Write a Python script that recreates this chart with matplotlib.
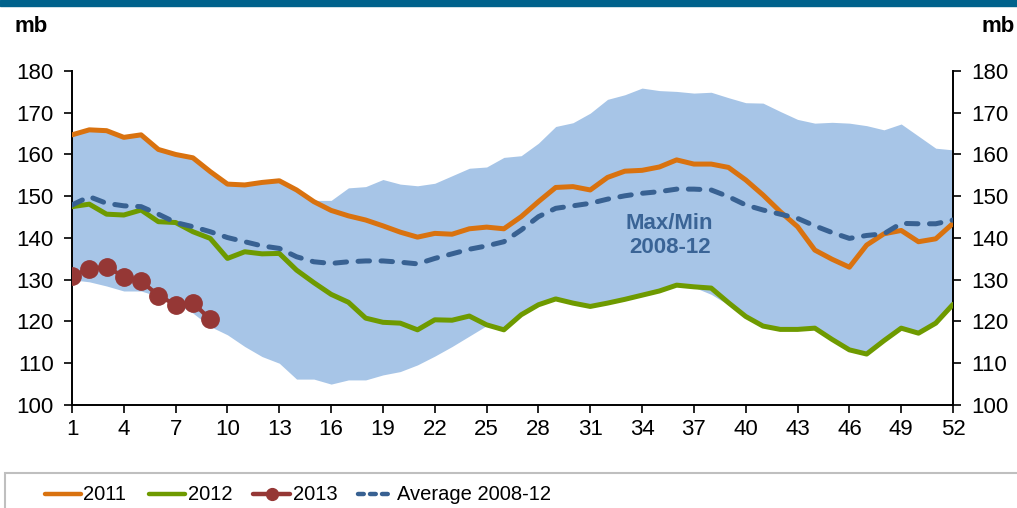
import matplotlib
matplotlib.use("Agg")
import matplotlib.pyplot as plt
from matplotlib.patches import Rectangle
from matplotlib.lines import Line2D

plt.rcParams["font.family"] = ["Liberation Sans", "DejaVu Sans"]

# weekly stocks, mb
weeks = list(range(1, 53))
week_ticks = list(range(1, 53, 3))

band_max = [165.0, 166.0, 165.7, 164.3, 164.7, 161.5, 160.2, 159.5, 156.0, 153.0,
            152.9, 153.5, 153.9, 151.7, 149.0, 149.0, 152.0, 152.3, 154.0, 152.9,
            152.5, 153.1, 154.9, 156.7, 157.0, 159.3, 159.7, 162.7, 166.7, 167.6,
            169.9, 173.2, 174.3, 175.9, 175.3, 175.1, 174.7, 174.9, 173.6, 172.4,
            172.3, 170.3, 168.4, 167.5, 167.7, 167.5, 166.9, 165.9, 167.3, 164.4,
            161.5, 161.1]
band_min = [130.0, 129.5, 128.5, 127.3, 127.3, 126.0, 124.4, 122.0, 118.8, 116.8,
            114.0, 111.6, 110.0, 106.2, 106.2, 105.0, 106.0, 106.0, 107.2, 108.0,
            109.6, 111.7, 114.0, 116.5, 119.0, 118.0, 121.6, 124.0, 125.4, 124.4,
            123.6, 124.4, 125.3, 126.3, 127.3, 128.7, 128.2, 126.5, 124.0, 121.2,
            118.9, 118.1, 118.1, 118.4, 115.7, 113.2, 112.2, 115.4, 118.4, 117.2,
            119.6, 124.1]

y2011 = [164.7, 165.9, 165.7, 164.1, 164.7, 161.2, 160.0, 159.2, 155.9, 152.9,
         152.7, 153.3, 153.7, 151.5, 148.7, 146.6, 145.3, 144.3, 142.9, 141.4,
         140.2, 141.1, 140.9, 142.2, 142.6, 142.2, 145.1, 148.7, 152.1, 152.3,
         151.5, 154.5, 156.0, 156.2, 157.0, 158.7, 157.7, 157.7, 156.9, 153.9,
         150.3, 146.3, 142.7, 137.1, 134.9, 133.0, 138.3, 141.0, 141.8, 139.1,
         139.8, 143.5]
y2012 = [147.5, 148.1, 145.7, 145.5, 146.7, 143.9, 143.7, 141.5, 139.9, 135.1,
         136.7, 136.2, 136.3, 132.3, 129.3, 126.5, 124.6, 120.8, 119.8, 119.6,
         118.0, 120.4, 120.3, 121.3, 119.2, 118.0, 121.6, 124.0, 125.4, 124.4,
         123.6, 124.4, 125.3, 126.3, 127.3, 128.7, 128.3, 128.0, 124.5, 121.2,
         118.9, 118.1, 118.1, 118.4, 115.7, 113.2, 112.2, 115.4, 118.4, 117.2,
         119.6, 124.1]
weeks2013 = list(range(1, 10))
y2013 = [130.9, 132.6, 133.1, 130.7, 129.7, 126.2, 124.0, 124.5, 120.5]
avg = [147.9, 149.9, 148.3, 147.7, 147.5, 145.7, 143.7, 142.7, 141.5, 140.1,
       139.1, 138.1, 137.5, 135.5, 134.3, 133.9, 134.3, 134.5, 134.5, 134.2,
       133.8, 135.1, 136.2, 137.3, 138.1, 139.1, 141.9, 145.1, 147.1, 147.7,
       148.3, 149.3, 150.1, 150.7, 151.1, 151.7, 151.7, 151.5, 149.9, 147.9,
       146.7, 145.7, 144.7, 142.9, 141.3, 139.9, 140.6, 141.0, 143.5, 143.4,
       143.4, 144.3]

series_names = ["2011", "2012", "2013", "Average 2008-12"]

c2011 = "#D9720F"
c2012 = "#6E9A00"
c2013 = "#953735"
cavg = "#386192"
cband = "#A7C5E7"

fig = plt.figure(figsize=(10.17, 5.08), dpi=100)
ax = fig.add_axes([0.0708, 0.2028, 0.8663, 0.6575])

# min/max range, then the yearly lines on top
ax.fill_between(weeks, band_min, band_max, color=cband, lw=0, zorder=1)
ax.plot(weeks, y2011, color=c2011, lw=3.6, solid_joinstyle="round",
        solid_capstyle="round", zorder=3)
ax.plot(weeks, y2012, color=c2012, lw=3.6, solid_joinstyle="round",
        solid_capstyle="round", zorder=3)
ax.plot(weeks, avg, color=cavg, lw=3.6, dashes=(2.3, 2.3),
        dash_capstyle="round", zorder=4)
ax.plot(weeks2013, y2013, color=c2013, lw=3, marker="o", ms=12.5, zorder=5)

ax.text(35.6, 140.5, "Max/Min\n2008-12", color="#3A6496", fontsize=16,
        fontweight="bold", ha="center", va="center", linespacing=1.2, zorder=6)

ax.set_xlim(1, 52)
ax.set_ylim(100, 180)
ax.set_xticks(week_ticks)
ax.set_yticks(range(100, 181, 10))
ax.tick_params(axis="both", direction="out", length=6, width=1.2,
               labelsize=16)
ax.tick_params(axis="x", pad=4)
ax.tick_params(axis="y", left=True, right=True, labelleft=True,
               labelright=True, pad=7)
ax.spines["top"].set_visible(False)
for s in ("left", "right", "bottom"):
    ax.spines[s].set_linewidth(1.4)

# header strip and unit labels
fig.patches.append(Rectangle((0, 0.988), 1, 0.012, transform=fig.transFigure,
                             color="#00628C", zorder=0))
fig.text(0.014, 0.948, "mb", fontsize=16, fontweight="bold", va="center")
fig.text(0.998, 0.948, "mb", fontsize=16, fontweight="bold", va="center",
         ha="right")

# legend box, running off the lower right edge
W, H = 1017.0, 508.0
fig.patches.append(Rectangle((5 / W, -0.05), 1.1, 0.05 + 1 - 473 / H,
                             transform=fig.transFigure, fill=False,
                             edgecolor="#BFBFBF", lw=1.5))
leg_y = 1 - 494 / H
handle_x = [(45, 81), (149, 185), (253, 290), (358, 390)]
text_x = [83, 188, 293, 397]
leg_styles = [
    dict(color=c2011, lw=3.2, solid_capstyle="round"),
    dict(color=c2012, lw=3.2, solid_capstyle="round"),
    dict(color=c2013, lw=3.2, solid_capstyle="round", marker="o", ms=8.5,
         markevery=[1]),
    dict(color=cavg, lw=3.2, dashes=(1.3, 1.4), dash_capstyle="round"),
]
for (x0, x1), tx, name, st in zip(handle_x, text_x, series_names, leg_styles):
    if "markevery" in st:
        xs = [x0 / W, (x0 + x1) / 2 / W, x1 / W]
    else:
        xs = [x0 / W, x1 / W]
    fig.add_artist(Line2D(xs, [leg_y] * len(xs), transform=fig.transFigure, **st))
    fig.text(tx / W, leg_y, name, fontsize=14.5, va="center", ha="left")

fig.savefig("out.png", dpi=100)
